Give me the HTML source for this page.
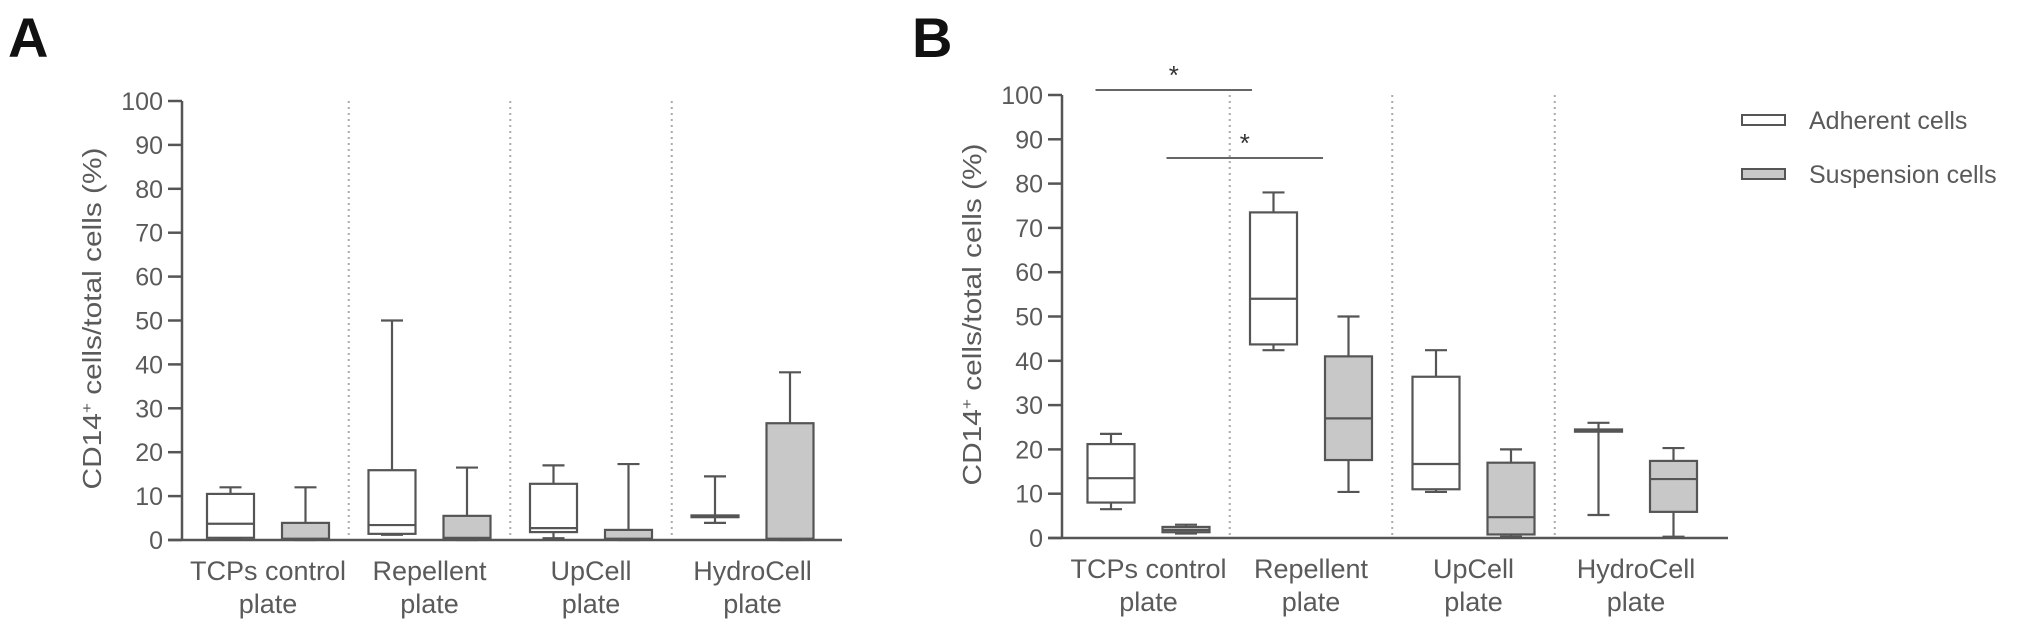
<!DOCTYPE html>
<html><head><meta charset="utf-8"><style>
html,body{margin:0;padding:0;background:#fff;}
svg{display:block;}
text{font-family:"Liberation Sans",sans-serif;fill:#5a5a5a;}
</style></head><body>
<svg id="chart" width="2031" height="631" viewBox="0 0 2031 631" xmlns="http://www.w3.org/2000/svg"></svg>
<script>
const categories = ["TCPs control|plate","Repellent|plate","UpCell|plate","HydroCell|plate"];
const ticks = [0,10,20,30,40,50,60,70,80,90,100];
// [min, q1, median, q3, max]
const aAdherent = [[0.3,0.5,3.7,10.5,12],[1.2,1.4,3.4,15.9,50],[0.4,1.8,2.7,12.8,17],[3.9,5.2,5.4,5.6,14.5]];
const aSuspension = [[0,0.1,0.3,3.9,12],[0,0.2,0.5,5.5,16.5],[0,0.2,0.3,2.3,17.3],[0,0.1,0.3,26.6,38.2]];
const bAdherent = [[6.5,8,13.5,21.2,23.5],[42.4,43.7,54,73.5,78],[10.4,11,16.7,36.4,42.4],[5.2,24,24.3,24.5,26]];
const bSuspension = [[1,1.3,1.8,2.5,3],[10.4,17.6,27,41,50],[0.3,0.8,4.7,17,20],[0.3,5.9,13.3,17.4,20.3]];
const seriesNames = ["Adherent cells","Suspension cells"];

const NS="http://www.w3.org/2000/svg";
const svg=document.getElementById('chart');
function mk(tag,attrs,parent,txt){const e=document.createElementNS(NS,tag);for(const k in attrs)e.setAttribute(k,attrs[k]);if(txt!==undefined)e.textContent=txt;(parent||svg).appendChild(e);return e;}

function panel(cfg){
  const g=mk('g',{});
  
  
  const y=v=>cfg.y0-(cfg.y0-cfg.y100)*v/100;
  const gx=i=>cfg.c0+cfg.sp*i;
  // letter
  const L=mk('text',{x:cfg.letterX,y:57,'font-size':56,'font-weight':'bold',fill:'#111',style:'fill:#111'},g,cfg.letter);
  
  
  // dividers
  for(let i=0;i<categories.length-1;i++){
    const dx=(gx(i)+gx(i+1))/2;
    const d=mk('line',{x1:dx,x2:dx,y1:cfg.y100,y2:cfg.y0,stroke:'#aaa','stroke-width':2,'stroke-dasharray':'2 4'},g);
    
    
  }
  // y axis
  const ax=mk('line',{x1:cfg.ax,x2:cfg.ax,y1:cfg.y100,y2:cfg.y0,stroke:'#555','stroke-width':2.5},g);
  
  
  ticks.forEach(t=>{
    mk('line',{x1:cfg.ax-14,x2:cfg.ax,y1:y(t),y2:y(t),stroke:'#555','stroke-width':2.5},g);
    const tl=mk('text',{x:cfg.ax-19,y:y(t)+9,'font-size':25,'text-anchor':'end'},g,String(t));
    
    
  });
  const yt=mk('text',{x:0,y:0,'font-size':26,'text-anchor':'middle',transform:`translate(${cfg.ax-81},${(cfg.y0+cfg.y100)/2-2}) rotate(-90)`,textLength:342,lengthAdjust:'spacingAndGlyphs'},g);
  
  
  yt.appendChild(document.createTextNode('CD14'));
  mk('tspan',{dy:-9,'font-size':15},yt,'+');
  mk('tspan',{dy:9},yt,' cells/total cells (%)');
  // x axis
  const xa=mk('line',{x1:cfg.ax-14,x2:cfg.xEnd,y1:cfg.y0,y2:cfg.y0,stroke:'#555','stroke-width':2.5},g);
  
  
  categories.forEach((c,i)=>{
    const parts=c.split('|');
    const t=mk('text',{x:gx(i),y:cfg.y0+40,'font-size':27,'text-anchor':'middle'},g,parts[0]);
    
    
    mk('text',{x:gx(i),y:cfg.y0+73,'font-size':27,'text-anchor':'middle'},g,parts[1]);
  });
  // boxes
  [cfg.adh,cfg.sus].forEach((ser,si)=>{
    ser.forEach((s,i)=>{
      const cx=gx(i)+(si===0?-37.5:37.5), w=47, cw=22;
      const bg=mk('g',{},g);
      
      
      const st={stroke:'#555','stroke-width':2.2};
      mk('line',Object.assign({x1:cx,x2:cx,y1:y(s[3]),y2:y(s[4])},st),bg);
      mk('line',Object.assign({x1:cx,x2:cx,y1:y(s[1]),y2:y(s[0])},st),bg);
      mk('line',Object.assign({x1:cx-cw/2,x2:cx+cw/2,y1:y(s[4]),y2:y(s[4])},st),bg);
      mk('line',Object.assign({x1:cx-cw/2,x2:cx+cw/2,y1:y(s[0]),y2:y(s[0])},st),bg);
      mk('rect',Object.assign({x:cx-w/2,y:y(s[3]),width:w,height:Math.max(y(s[1])-y(s[3]),0.5),fill:si===0?'#fff':'#c8c8c8'},st),bg);
      mk('line',Object.assign({x1:cx-w/2,x2:cx+w/2,y1:y(s[2]),y2:y(s[2])},st),bg);
    });
  });
  return {g,y,gx};
}

panel({name:'panel-a',letter:'A',letterX:8,ax:182,y0:540,y100:101,c0:268,sp:161.5,xEnd:842,adh:aAdherent,sus:aSuspension});
const pb=panel({name:'panel-b',letter:'B',letterX:912,ax:1062,y0:538,y100:95,c0:1148.5,sp:162.5,xEnd:1728,adh:bAdherent,sus:bSuspension});

// significance brackets
[[0,1,90,'sig-tcp-vs-repellent-adherent',-53],[0,1,158,'sig-tcp-vs-repellent-suspension',18]].forEach(s=>{
  const x1=pb.gx(s[0])+s[4], x2=pb.gx(s[1])+s[4]-6;
  const sg=mk('g',{});
  
  
  mk('line',{x1:x1,x2:x2,y1:s[2],y2:s[2],stroke:'#666','stroke-width':2},sg);
  mk('text',{x:(x1+x2)/2,y:s[2]-6,'font-size':26,'text-anchor':'middle',style:'fill:#333'},sg,'*');
});

// legend
seriesNames.forEach((n,i)=>{
  const lg=mk('g',{});
  
  
  const cy=120+54*i;
  mk('rect',{x:1742,y:cy-5,width:43,height:10,fill:i===0?'#fff':'#c8c8c8',stroke:'#555','stroke-width':2},lg);
  mk('text',{x:1809,y:cy+9,'font-size':25},lg,n);
});
</script>
</body></html>
